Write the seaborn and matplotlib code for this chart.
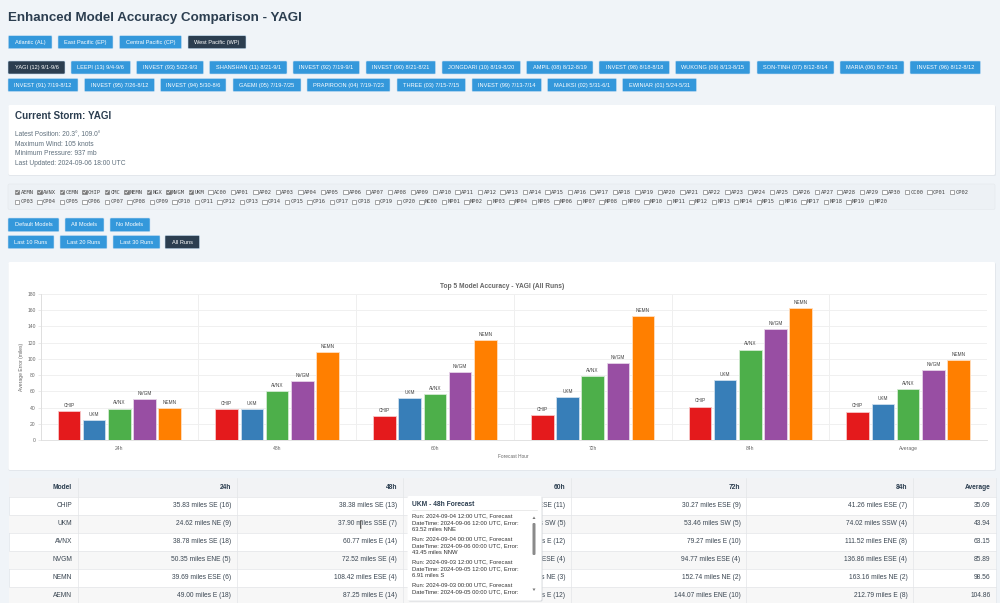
import matplotlib
matplotlib.use("Agg")
import matplotlib.pyplot as plt
from matplotlib.patches import FancyBboxPatch, Rectangle, Polygon
import pandas as pd
import seaborn as sns

# valores do grafico
horas = ["24h", "48h", "60h", "72h", "84h", "Average"]
modelos = ["CHIP", "UKM", "AVNX", "NVGM", "NEMN"]
cores = ["#e41a1c", "#377eb8", "#4daf4a", "#984ea3", "#ff7f00"]
erro_chip = [35.83, 38.38, 29.8, 30.27, 41.26, 35.09]
erro_ukm = [24.62, 37.90, 51.3, 53.46, 74.02, 43.94]
erro_avnx = [38.78, 60.77, 56.4, 79.27, 111.52, 63.15]
erro_nvgm = [50.35, 72.52, 83.5, 94.77, 136.86, 85.89]
erro_nemn = [39.69, 108.42, 123.8, 152.74, 163.16, 98.56]
y_ticks = list(range(0, 181, 20))

# tabela
colunas = ["Model", "24h", "48h", "60h", "72h", "84h", "Average"]
linhas_tabela = [
    ["CHIP", "35.83 miles SE (16)", "38.38 miles SE (13)", "29.80 miles ESE (11)", "30.27 miles ESE (9)", "41.26 miles ESE (7)", "35.09"],
    ["UKM", "24.62 miles NE (9)", "37.90 miles SSE (7)", "51.30 miles SW (5)", "53.46 miles SW (5)", "74.02 miles SSW (4)", "43.94"],
    ["AVNX", "38.78 miles SE (18)", "60.77 miles E (14)", "56.40 miles E (12)", "79.27 miles E (10)", "111.52 miles ENE (8)", "63.15"],
    ["NVGM", "50.35 miles ENE (5)", "72.52 miles SE (4)", "83.50 miles ESE (4)", "94.77 miles ESE (4)", "136.86 miles ESE (4)", "85.89"],
    ["NEMN", "39.69 miles ESE (6)", "108.42 miles ESE (4)", "123.80 miles NE (3)", "152.74 miles NE (2)", "163.16 miles NE (2)", "98.56"],
    ["AEMN", "49.00 miles E (18)", "87.25 miles E (14)", "112.60 miles E (12)", "144.07 miles ENE (10)", "212.79 miles E (8)", "104.86"],
]

# botoes e textos da pagina
bacias = [("Atlantic (AL)", 8.3, 52), ("East Pacific (EP)", 58, 113), ("Central Pacific (CP)", 119.5, 181.5), ("West Pacific (WP)", 188, 246)]
tempestades_1 = [("YAGI (12) 9/1-9/6", 8, 65), ("LEEPI (13) 9/4-9/6", 71, 130.5), ("INVEST (93) 5/22-9/3", 136.5, 203.5),
                 ("SHANSHAN (11) 8/21-9/1", 209.5, 287), ("INVEST (92) 7/19-9/1", 293, 359.5), ("INVEST (90) 8/21-8/21", 366, 435.5),
                 ("JONGDARI (10) 8/19-8/20", 442, 520.5), ("AMPIL (08) 8/12-8/19", 526.5, 593), ("INVEST (98) 8/18-8/18", 599, 669.5),
                 ("WUKONG (09) 8/13-8/15", 675.5, 750), ("SON-TINH (07) 8/12-8/14", 757, 834), ("MARIA (06) 8/7-8/13", 840, 904),
                 ("INVEST (96) 8/12-8/12", 910, 980.5)]
tempestades_2 = [("INVEST (91) 7/19-8/12", 8, 78), ("INVEST (95) 7/26-8/12", 84.5, 154.5), ("INVEST (94) 5/30-8/6", 160.5, 226),
                 ("GAEMI (05) 7/19-7/25", 233, 301), ("PRAPIROON (04) 7/19-7/23", 307, 390), ("THREE (03) 7/15-7/15", 397, 465.5),
                 ("INVEST (99) 7/13-7/14", 472, 541.5), ("MALIKSI (02) 5/31-6/1", 547.5, 616.5), ("EWINIAR (01) 5/24-5/31", 622.5, 696.5)]
botoes_modelos = [("Default Models", 8, 59), ("All Models", 65, 104), ("No Models", 110, 150)]
botoes_runs = [("Last 10 Runs", 8, 54), ("Last 20 Runs", 60, 107), ("Last 30 Runs", 113, 160), ("All Runs", 165, 199.5)]
info_storm = ["Latest Position: 20.3°, 109.0°", "Maximum Wind: 105 knots", "Minimum Pressure: 937 mb", "Last Updated: 2024-09-06 18:00 UTC"]
marcados = ["AEMN", "AVNX", "CEMN", "CHIP", "CMC", "NEMN", "NGX", "NVGM", "UKM"]
caixas_1 = marcados + ["AC00"] + [f"AP{i:02d}" for i in range(1, 31)] + ["CC00", "CP01", "CP02"]
caixas_2 = [f"CP{i:02d}" for i in range(3, 21)] + ["NC00"] + [f"NP{i:02d}" for i in range(1, 21)]
popup_titulo = "UKM - 48h Forecast"
popup_linhas = ["Run: 2024-09-04 12:00 UTC, Forecast", "DateTime: 2024-09-06 12:00 UTC, Error:", "63.52 miles NNE",
                "Run: 2024-09-04 00:00 UTC, Forecast", "DateTime: 2024-09-06 00:00 UTC, Error:", "43.45 miles NNW",
                "Run: 2024-09-03 12:00 UTC, Forecast", "DateTime: 2024-09-05 12:00 UTC, Error:", "6.91 miles S",
                "Run: 2024-09-03 00:00 UTC, Forecast", "DateTime: 2024-09-05 00:00 UTC, Error:"]

AZUL = "#3498db"
ESCURO = "#2c3e50"
FUNDO = "#f0f4f8"
PX = 0.72  # px para pt com dpi=100

sns.set_theme(style="white")
plt.rcParams["font.family"] = ["Liberation Sans", "DejaVu Sans"]

fig = plt.figure(figsize=(10, 6.03), dpi=100, facecolor=FUNDO)
pg = fig.add_axes([0, 0, 1, 1], zorder=0)
pg.set_xlim(0, 1000)
pg.set_ylim(603, 0)
pg.axis("off")


def caixa(x0, x1, y0, y1, cor, borda="none", raio=1.0, z=1, lw=0.4):
    p = FancyBboxPatch((x0 + raio, y0 + raio), x1 - x0 - 2 * raio, y1 - y0 - 2 * raio,
                       boxstyle=f"round,pad={raio},rounding_size={raio}", fc=cor, ec=borda, lw=lw, zorder=z)
    pg.add_patch(p)


def botoes(lista, y0, y1, ativos=(), tam=5.6):
    for nome, x0, x1 in lista:
        caixa(x0, x1, y0, y1, ESCURO if nome in ativos else AZUL, borda="#c5def2")
        pg.text((x0 + x1) / 2, (y0 + y1) / 2, nome, color="white", fontsize=tam * PX, ha="center", va="center", zorder=2)


# cabecalho e botoes
pg.text(8, 18.5, "Enhanced Model Accuracy Comparison - YAGI", fontsize=13.4 * PX, fontweight="bold", color=ESCURO, va="center")
botoes(bacias, 35.7, 48.7, ["West Pacific (WP)"])
botoes(tempestades_1, 61, 74, ["YAGI (12) 9/1-9/6"])
botoes(tempestades_2, 78.5, 91.5)

# painel da tempestade atual
caixa(8.5, 996, 106, 176, "#e3e7ec", raio=1.5)
caixa(8.5, 995, 105, 175, "white", raio=1.5)
pg.text(15, 116, "Current Storm: YAGI", fontsize=9.9 * PX, fontweight="bold", color=ESCURO, va="center", zorder=2)
for txt, y in zip(info_storm, [134.5, 144, 153.5, 163.5]):
    pg.text(15, y, txt, fontsize=6.6 * PX, color="#5f6f7c", va="center", zorder=2)

# checkboxes
caixa(8, 995, 184, 209.5, "#edf1f5", borda="#e4e8ec", raio=1.5)
for nomes, y in ((caixas_1, 192), (caixas_2, 201.7)):
    x = 15.0
    for nome in nomes:
        marcado = nome in marcados
        pg.add_patch(Rectangle((x, y - 2.2), 4.4, 4.4, fc="#777777" if marcado else "white", ec="#777777", lw=0.45, zorder=2))
        if marcado:
            pg.plot([x + 0.9, x + 1.9, x + 3.6], [y, y + 1.2, y - 1.2], color="white", lw=0.5, zorder=3)
        pg.text(x + 5.6, y, nome, family="DejaVu Sans Mono", fontsize=5.4 * PX, color="#444444", va="center", zorder=2)
        x += 22.47 if len(nome) == 4 else 19.5

botoes(botoes_modelos, 218, 231.7)
botoes(botoes_runs, 235.5, 248.7, ["All Runs"])

# painel do grafico
caixa(8.5, 996, 263, 471, "#e3e7ec", raio=1.5)
caixa(8.5, 995, 262, 470, "white", raio=1.5)

# grafico de barras
tabela = pd.DataFrame({"CHIP": erro_chip, "UKM": erro_ukm, "AVNX": erro_avnx, "NVGM": erro_nvgm, "NEMN": erro_nemn}, index=horas)
dados = tabela.reset_index(names="hora").melt(id_vars="hora", var_name="modelo", value_name="erro")

ax = fig.add_axes([40.5 / 1000, 1 - 440 / 603, 946.5 / 1000, 146 / 603], zorder=1)
ax.patch.set_alpha(0)
sns.barplot(data=dados, x="hora", y="erro", hue="modelo", order=horas, hue_order=modelos, palette=cores,
            width=0.8, gap=0.1, saturation=1, legend=False, ax=ax, zorder=3)
for barras, nome, cor in zip(ax.containers, modelos, cores):
    borda = sns.blend_palette([cor, "#ffffff"], 5)[3]
    for b in barras:
        b.set_edgecolor(borda)
        b.set_linewidth(0.6)
    ax.bar_label(barras, labels=[nome] * len(horas), padding=2.2, fontsize=4.8 * PX, color="#444444")

ax.set_xlim(-0.5, 5.5)
ax.set_ylim(0, 180)
ax.set_yticks(y_ticks)
ax.set_xticks([i - 0.5 for i in range(7)], minor=True)
ax.tick_params(axis="x", which="major", length=0, labelsize=5.0 * PX, labelcolor="#666666", pad=4.5)
ax.tick_params(axis="x", which="minor", length=2.2, width=0.5, color="#e2e2e2")
ax.tick_params(axis="y", length=2.2, width=0.5, color="#e2e2e2", labelsize=5.0 * PX, labelcolor="#666666", pad=1.2, left=True)
ax.grid(axis="y", color="#f0f0f0", lw=0.7)
ax.grid(axis="x", which="minor", color="#ececec", lw=0.6)
ax.grid(axis="x", which="major", visible=False)
ax.set_axisbelow(True)
sns.despine(ax=ax, top=True, right=True)
for s in ("left", "bottom"):
    ax.spines[s].set_color("#dddddd")
    ax.spines[s].set_linewidth(0.6)
ax.set_xlabel("")
ax.set_ylabel("")
pg.text(21, 367, "Average Error (miles)", rotation=90, fontsize=5.0 * PX, color="#666666", ha="center", va="center", zorder=2)
pg.text(513.7, 456, "Forecast Hour", fontsize=4.8 * PX, color="#666666", ha="center", va="center", zorder=2)
pg.text(502, 286, "Top 5 Model Accuracy - YAGI (All Runs)", fontsize=6.6 * PX, fontweight="bold", color="#666666", ha="center", va="center", zorder=2)

# tabela de baixo
col_x = [9, 77.5, 236.5, 402.5, 570.7, 746, 912.8, 996]
lin_y = [478, 496.7, 514.5, 532.6, 550.5, 568.7, 586.7, 604.7]
pg.add_patch(Rectangle((9, 478), 987, 130, fc="white", ec="#e1e5ea", lw=0.5, zorder=1))
pg.add_patch(Rectangle((9, lin_y[0]), 987, lin_y[1] - lin_y[0], fc="#f2f3f5", ec="none", zorder=1.1))
for i in (1, 3, 5):
    pg.add_patch(Rectangle((9, lin_y[i + 1]), 987, lin_y[i + 2] - lin_y[i + 1], fc="#f7f7f7", ec="none", zorder=1.1))
for y in lin_y[1:]:
    pg.plot([9, 996], [y, y], color="#e3e5e8", lw=0.5, zorder=1.2)
for x in col_x[1:-1]:
    pg.plot([x, x], [478, 603], color="#e3e5e8", lw=0.5, zorder=1.2)
for j, col in enumerate(colunas):
    pg.text(col_x[j + 1] - 5.5, (lin_y[0] + lin_y[1]) / 2, col, fontsize=6.7 * PX, fontweight="bold", color=ESCURO, ha="right", va="center", zorder=2)
for i, linha in enumerate(linhas_tabela):
    ym = (lin_y[i + 1] + lin_y[i + 2]) / 2
    for j, val in enumerate(linha):
        pg.text(col_x[j + 1] - 5.5, ym, val, fontsize=6.7 * PX, color="#3a4652", ha="right", va="center", zorder=2)

# cursor do mouse em cima da tabela
pg.plot([360.5, 360.5], [520.5, 527.5], color="#555555", lw=1.4, zorder=3)
pg.plot([360.5, 360.5], [520.5, 527.5], color="white", lw=0.5, zorder=3.1)

# popup
caixa(408.5, 542.5, 497, 601.5, "#d4d7db", raio=1.5, z=4)
caixa(407.6, 541.6, 496, 600.7, "white", raio=1.5, z=4.1)
pg.text(412, 504, popup_titulo, fontsize=6.6 * PX, fontweight="bold", color=ESCURO, va="center", zorder=5)
pg.plot([412, 537], [509.5, 509.5], color="#e6e6e6", lw=0.6, zorder=5)
for txt, y in zip(popup_linhas, [515.3, 522.3, 529.7, 538.3, 545.7, 552.3, 561.7, 569, 575.7, 584.3, 591.7]):
    pg.text(412, y, txt, fontsize=5.9 * PX, color="#333333", va="center", zorder=5)
caixa(532.5, 535.5, 523, 555, "#8a8a8a", raio=1.2, z=5)
pg.add_patch(Polygon([[532.5, 519], [535.5, 519], [534, 516.5]], fc="#777777", ec="none", zorder=5))
pg.add_patch(Polygon([[532.5, 588.5], [535.5, 588.5], [534, 591]], fc="#777777", ec="none", zorder=5))

fig.savefig("out.png", dpi=100, facecolor=fig.get_facecolor())
plt.close(fig)
